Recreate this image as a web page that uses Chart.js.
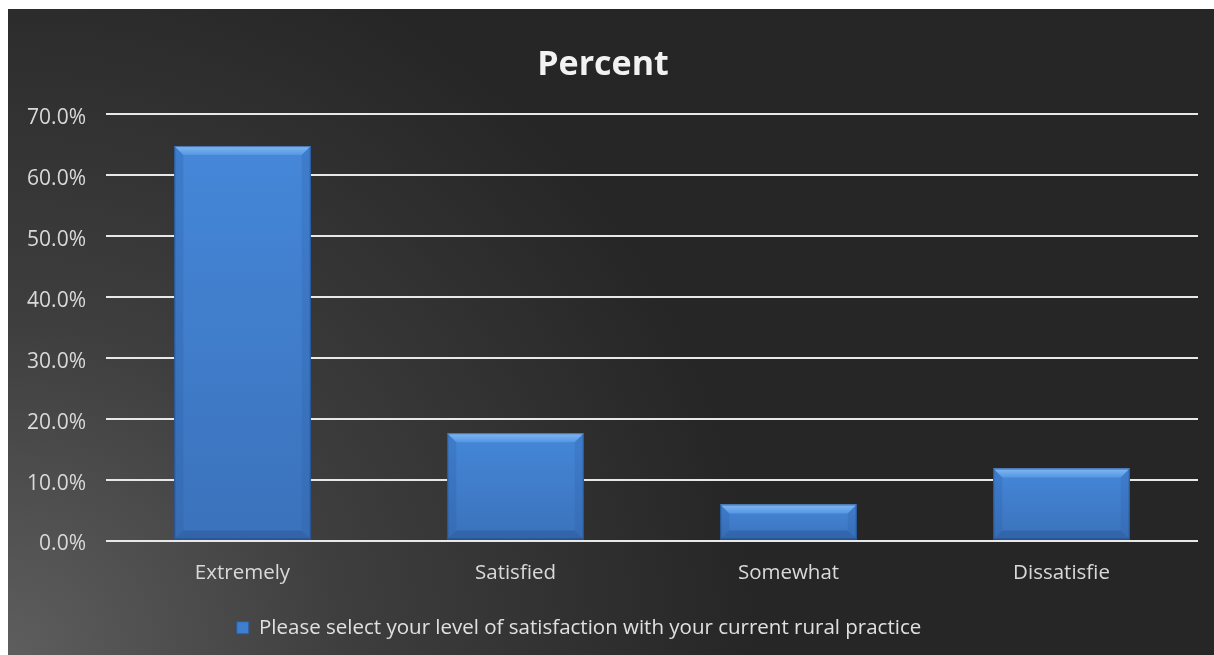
<!DOCTYPE html>
<html>
<head>
<meta charset="utf-8">
<script src="https://cdn.jsdelivr.net/npm/chart.js@4.4.1/dist/chart.umd.min.js"></script>
<style>
  html, body { margin: 0; padding: 0; background: #ffffff; }
  .chart-box { position: absolute; left: 8px; top: 9px; width: 1206px; height: 646px; }
</style>
</head>
<body>
<div class="chart-box"><canvas id="satisfactionChart"></canvas></div>
<script>
const categories = ['Extremely', 'Satisfied', 'Somewhat', 'Dissatisfie'];
const percentValues = [64.7, 17.6, 5.9, 11.8];
const yTicks = [0, 10, 20, 30, 40, 50, 60, 70];
const seriesName = 'Please select your level of satisfaction with your current rural practice';

// dark panel, lighter towards the bottom-left corner
const panelBackground = {
  id: 'panelBackground',
  beforeDraw(chart) {
    const { ctx, width, height } = chart;
    const g = ctx.createRadialGradient(0, height, 0, 0, height, width * 0.62);
    g.addColorStop(0, '#5e5e5e');
    g.addColorStop(0.45, '#3e3e3e');
    g.addColorStop(1, '#262626');
    ctx.save();
    ctx.fillStyle = g;
    ctx.fillRect(0, 0, width, height);
    ctx.restore();
  }
};

// nudge the legend a bit to the left of centre
const legendShift = {
  id: 'legendShift',
  afterLayout(chart) {
    if (chart.legend) {
      chart.legend.left -= 24;
      chart.legend.right -= 24;
    }
  }
};

// bevelled look on each bar
const barBevel = {
  id: 'barBevel',
  afterDatasetsDraw(chart) {
    const { ctx } = chart;
    const poly = (pts, fill) => {
      ctx.beginPath();
      ctx.moveTo(pts[0][0], pts[0][1]);
      for (let i = 1; i < pts.length; i++) ctx.lineTo(pts[i][0], pts[i][1]);
      ctx.closePath();
      ctx.fillStyle = fill;
      ctx.fill();
    };
    chart.getDatasetMeta(0).data.forEach(bar => {
      const { x, y, base, width } = bar.getProps(['x', 'y', 'base', 'width'], true);
      const l = x - width / 2, r = x + width / 2, t = y, b = base;
      const s = Math.min(9, (b - t) / 2);
      ctx.save();
      const face = ctx.createLinearGradient(0, t, 0, b);
      face.addColorStop(0, '#4587d9');
      face.addColorStop(1, '#3b72bb');
      ctx.fillStyle = face;
      ctx.fillRect(l, t, width, b - t);
      const top = ctx.createLinearGradient(0, t, 0, t + s);
      top.addColorStop(0, '#80b8f4');
      top.addColorStop(1, '#5596e2');
      poly([[l, t], [r, t], [r - s, t + s], [l + s, t + s]], top);
      poly([[l, t], [l + s, t + s], [l + s, b - s], [l, b]], 'rgba(40,90,160,0.25)');
      poly([[r, t], [r, b], [r - s, b - s], [r - s, t + s]], 'rgba(40,90,160,0.22)');
      poly([[l, b], [r, b], [r - s, b - s], [l + s, b - s]], 'rgba(30,70,130,0.3)');
      ctx.strokeStyle = 'rgba(20,50,100,0.5)';
      ctx.lineWidth = 1;
      ctx.strokeRect(l + 0.5, t + 0.5, width - 1, b - t - 1);
      ctx.restore();
    });
  }
};

new Chart(document.getElementById('satisfactionChart'), {
  type: 'bar',
  data: {
    labels: categories,
    datasets: [{
      label: seriesName,
      data: percentValues,
      backgroundColor: '#3f7fd0',
      borderWidth: 0,
      barPercentage: 0.5,
      categoryPercentage: 1.0
    }]
  },
  options: {
    responsive: true,
    maintainAspectRatio: false,
    animation: false,
    layout: { padding: { left: 0, right: 16, top: 0, bottom: 7 } },
    plugins: {
      title: {
        display: true,
        text: 'Percent',
        color: '#f2f2f2',
        font: { family: 'Open Sans', size: 34, weight: 'bold' },
        padding: { top: 36, bottom: 28 }
      },
      legend: {
        position: 'bottom',
        labels: {
          color: '#e0e0e0',
          font: { family: 'Open Sans', size: 20.5 },
          boxWidth: 12,
          boxHeight: 12,
          padding: 9,
          generateLabels: () => [{
            text: seriesName,
            fillStyle: '#3f7fd0',
            strokeStyle: '#2c5d9e',
            lineWidth: 1,
            fontColor: '#e0e0e0'
          }]
        }
      },
      tooltip: { enabled: false }
    },
    scales: {
      x: {
        grid: { display: false, drawTicks: false },
        border: { display: false },
        ticks: {
          color: '#d9d9d9',
          font: { family: 'Open Sans', size: 20.5 },
          padding: 20,
          maxRotation: 0,
          autoSkip: false
        },
        afterFit(scale) { scale.height = 68; }
      },
      y: {
        min: 0,
        max: 70,
        afterBuildTicks(scale) { scale.ticks = yTicks.map(v => ({ value: v })); },
        grid: { color: '#e8e8e8', lineWidth: 2, drawTicks: false },
        border: { display: false },
        ticks: {
          color: '#d9d9d9',
          font: { family: 'Open Sans', size: 21 },
          padding: 20,
          labelOffset: 4,
          callback: v => v.toFixed(1) + '%'
        },
        afterFit(scale) { scale.width = 98; }
      }
    }
  },
  plugins: [panelBackground, legendShift, barBevel]
});
</script>
</body>
</html>
